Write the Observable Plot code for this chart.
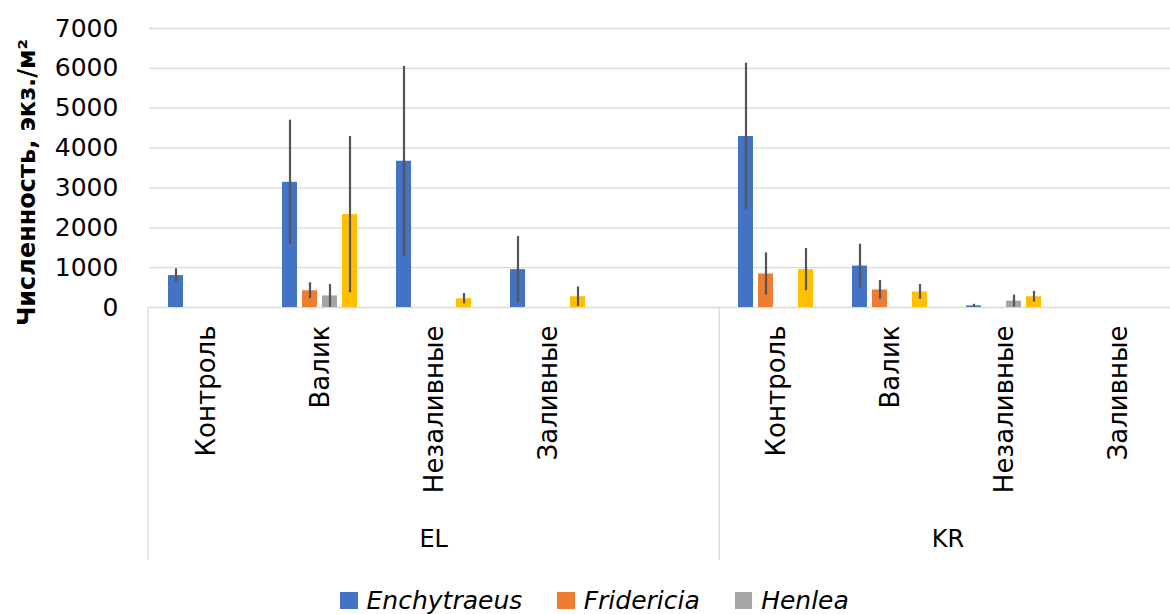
<!DOCTYPE html>
<html>
<head>
<meta charset="utf-8">
<script src="https://cdn.jsdelivr.net/npm/d3@7"></script>
<script src="https://cdn.jsdelivr.net/npm/@observablehq/plot@0.6"></script>
<style>
  html, body { margin: 0; padding: 0; background: #fff; overflow: hidden; }
  #wrap { position: relative; width: 1190px; height: 614px; font-family: "DejaVu Sans", sans-serif; }
  #legend { position: absolute; left: 0; top: 588px; width: 1189px; display: flex; justify-content: center; gap: 35px; }
  .item { display: flex; align-items: center; font-style: italic; font-size: 25px; line-height: 25px; color: #000; }
  .sw { width: 17.4px; height: 17.4px; margin-right: 9px; }
</style>
</head>
<body>
<div id="wrap">
  <div id="chart"></div>
  <div id="legend"></div>
</div>
<script>
// Sites and the plots within each (EL has one empty trailing slot)
const sites = ["EL", "KR"];
const elPlots = ["Контроль", "Валик", "Незаливные", "Заливные", ""];
const krPlots = ["Контроль", "Валик", "Незаливные", "Заливные"];

// Genera shown in the legend and the bar colours (fourth series in yellow)
const genera = ["Enchytraeus", "Fridericia", "Henlea"];
const colors = ["#4472C4", "#ED7D31", "#A5A5A5", "#FFC000"];

// Mean density, ind./m², one value per slot: EL (5 slots) then KR (4 slots)
const enchytraeus    = [800, 3140, 3670, 950, null, 4290, 1040, 40, 0];
const enchytraeusErr = [170, 1560, 2380, 830, null, 1840, 550, 40, 0];
const fridericia     = [0, 420, 0, 0, null, 840, 440, 0, 0];
const fridericiaErr  = [0, 200, 0, 0, null, 530, 240, 0, 0];
const henlea         = [0, 290, 0, 0, null, 0, 0, 160, 0];
const henleaErr      = [0, 285, 0, 0, null, 0, 0, 150, 0];
const series4        = [0, 2330, 220, 270, null, 950, 390, 270, 0];
const series4Err     = [0, 1960, 130, 245, null, 530, 185, 135, 0];

const yTicks = [0, 1000, 2000, 3000, 4000, 5000, 6000, 7000];
const yTitle = "Численность, экз./м²";

// Slot keys "site|plot" for the facet scale
const slots = [
  ...elPlots.map(p => `${sites[0]}|${p}`),
  ...krPlots.map(p => `${sites[1]}|${p}`)
];
const values = [enchytraeus, fridericia, henlea, series4];
const errors = [enchytraeusErr, fridericiaErr, henleaErr, series4Err];

const rows = [];
slots.forEach((slot, i) => {
  values.forEach((vals, k) => {
    if (vals[i] != null) rows.push({slot, k, value: vals[i], err: errors[k][i]});
  });
});

// One gridline per tick in every slot, so the empty slot is drawn too
const gridRows = slots.flatMap(slot => yTicks.map(t => ({slot, t})));

const W = 1190, H = 560;
const mL = 148, mR = 13.5, mT = 28, mB = 253;
const fxPadInner = 0.23, fxPadOuter = 0.115;

// Gridlines are drawn per facet; stretch them over the gap between facets
const fxStep = (W - mL - mR) / (slots.length - fxPadInner + 2 * fxPadOuter);
const gapHalf = fxStep * fxPadInner / 2;

const plot = Plot.plot({
  width: W,
  height: H,
  marginLeft: mL,
  marginRight: mR,
  marginTop: mT,
  marginBottom: mB,
  style: {fontFamily: "DejaVu Sans, sans-serif", fontSize: "24px", color: "#000", background: "#fff", overflow: "visible"},
  fx: {domain: slots, paddingInner: fxPadInner, paddingOuter: fxPadOuter, label: null},
  x: {domain: [0, 1, 2, 3], paddingInner: 0.23, paddingOuter: 0.23, axis: null},
  y: {domain: [0, 7000], label: null},
  color: {domain: [0, 1, 2, 3], range: colors},
  marks: [
    Plot.ruleY(gridRows, {fx: "slot", y: "t", stroke: "#d9d9d9", strokeWidth: 1.3, insetLeft: -gapHalf, insetRight: -gapHalf}),
    // y axis only in the first slot
    Plot.axisY(yTicks, {
      fx: () => slots[0], facetAnchor: null,
      tickSize: 0, tickPadding: 31 + gapHalf, fontSize: 25, label: null, tickFormat: d => String(d)
    }),
    Plot.axisFx({
      anchor: "bottom", tickSize: 0, tickPadding: 18, tickRotate: -90, textAnchor: "end",
      fontSize: 26, label: null, tickFormat: d => d.split("|")[1]
    }),
    Plot.barY(rows, {fx: "slot", x: "k", y: "value", fill: "k"}),
    Plot.ruleX(rows.filter(d => d.err > 0), {
      fx: "slot", x: "k",
      y1: d => Math.max(0, d.value - d.err), y2: d => d.value + d.err,
      stroke: "#555555", strokeWidth: 2.2
    })
  ]
});

document.getElementById("chart").appendChild(plot);

// Site separators, site labels and the y-axis title, placed with the plot's scales
const fxs = plot.scale("fx");
const band = d3.scaleBand()
  .domain(fxs.domain)
  .range(fxs.range)
  .paddingInner(fxs.paddingInner ?? fxPadInner)
  .paddingOuter(fxs.paddingOuter ?? fxPadOuter)
  .align(fxs.align ?? 0.5);
const half = (band.step() - band.bandwidth()) / 2;
const y0 = plot.scale("y").apply(0);
const svg = d3.select(plot);
const deco = svg.append("g");

const groups = [
  {site: sites[0], keys: slots.filter(s => s.startsWith(sites[0] + "|"))},
  {site: sites[1], keys: slots.filter(s => s.startsWith(sites[1] + "|"))}
];
groups.forEach(g => {
  const left = band(g.keys[0]) - half;
  const right = band(g.keys[g.keys.length - 1]) + band.bandwidth() + half;
  deco.append("line")
    .attr("x1", left).attr("x2", left)
    .attr("y1", y0).attr("y2", H)
    .attr("stroke", "#d9d9d9").attr("stroke-width", 1.3);
  deco.append("text")
    .attr("x", (left + right) / 2).attr("y", 547)
    .attr("text-anchor", "middle")
    .attr("font-size", 24)
    .attr("fill", "#000")
    .text(g.site);
});

const yr = plot.scale("y").range;
deco.append("text")
  .attr("transform", `translate(35,${(yr[0] + yr[1]) / 2 + 15}) rotate(-90)`)
  .attr("text-anchor", "middle")
  .attr("font-size", 24)
  .attr("font-weight", "bold")
  .attr("fill", "#000")
  .text(yTitle);

// Legend row
const legend = d3.select("#legend");
genera.forEach((name, i) => {
  const item = legend.append("div").attr("class", "item");
  item.append("div").attr("class", "sw").style("background", colors[i]);
  item.append("span").text(name);
});
</script>
</body>
</html>
